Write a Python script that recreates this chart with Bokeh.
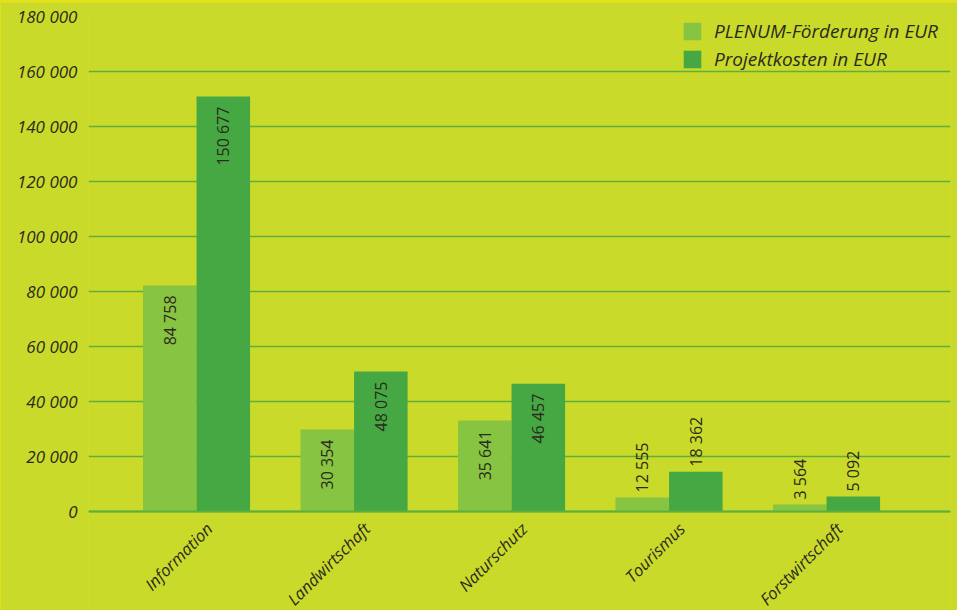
import numpy as np
from bokeh.plotting import figure
from bokeh.models import Range1d, FixedTicker, Legend, LegendItem, Span
from bokeh.embed import file_html
from bokeh.resources import INLINE

# ---------------- data ----------------
categories = ["Information", "Landwirtschaft", "Naturschutz", "Tourismus", "Forstwirtschaft"]
series_names = ["PLENUM-Förderung in EUR", "Projektkosten in EUR"]
# bar heights as drawn in the picture
foerderung = [82200, 29800, 33100, 5100, 2550]
projektkosten = [150900, 50900, 46500, 14500, 5450]
# value labels as printed in the picture
foerderung_labels = ["84 758", "30 354", "35 641", "12 555", "3 564"]
projektkosten_labels = ["150 677", "48 075", "46 457", "18 362", "5 092"]
y_ticks = [0, 20000, 40000, 60000, 80000, 100000, 120000, 140000, 160000, 180000]
y_tick_labels = ["0", "20 000", "40 000", "60 000", "80 000", "100 000",
                 "120 000", "140 000", "160 000", "180 000"]

# ---------------- style ----------------
BG = "#CADA2A"
TOP = "#E3E11C"
LIGHT = "#87C441"
DARK = "#46A842"
GRID = "#5DB03C"
TXT = "#2A2A1E"
FONT = "Open Sans"

idx = np.arange(1, len(categories) + 1)
off = 0.17
bw = 0.34
px = 180000 / 495.0          # data units per screen pixel on the y axis

# frame extends below zero so the rotated category labels live inside it
p = figure(width=957, height=608,
           x_range=Range1d(0.314, 5.787), y_range=Range1d(-99 * px, 180000),
           output_backend="svg", toolbar_location=None,
           min_border_left=88, min_border_right=7, min_border_top=14, min_border_bottom=0,
           background_fill_color=BG, border_fill_color=BG, outline_line_color=None)

r1 = p.vbar(x=idx - off, top=foerderung, width=bw, fill_color=LIGHT, line_color=None)
r2 = p.vbar(x=idx + off, top=projektkosten, width=bw, fill_color=DARK, line_color=None)

# baseline
p.add_layout(Span(location=0, dimension="width", line_color=GRID, line_width=2))

# value labels
thr = 25000
inside_gap = 10 * px
outside_gap = 5 * px
for xs, vals, labs in [(idx - off, foerderung, foerderung_labels),
                       (idx + off, projektkosten, projektkosten_labels)]:
    ix, iy, it, ox, oy, ot = [], [], [], [], [], []
    for x, v, l in zip(xs, vals, labs):
        if v > thr:
            ix.append(x); iy.append(v - inside_gap); it.append(l)
        else:
            ox.append(x); oy.append(v + outside_gap); ot.append(l)
    if ix:
        p.text(x=ix, y=iy, text=it, angle=np.pi / 2, text_align="right",
               text_baseline="middle", text_font_size="16px", text_color=TXT,
               text_font={"value": FONT})
    if ox:
        p.text(x=ox, y=oy, text=ot, angle=np.pi / 2, text_align="left",
               text_baseline="middle", text_font_size="16px", text_color=TXT,
               text_font={"value": FONT})

# category labels, rotated, below each group
p.text(x=idx + 0.08, y=[-14 * px] * len(categories), text=categories, angle=np.pi / 4,
       text_align="right", text_baseline="middle", text_font={"value": FONT},
       text_font_style="italic", text_font_size="16.5px", text_color=TXT)

p.xaxis.visible = False

ya = p.yaxis[0]
ya.ticker = FixedTicker(ticks=y_ticks)
ya.major_label_overrides = {t: l for t, l in zip(y_ticks, y_tick_labels)}
ya.axis_line_color = None
ya.major_tick_line_color = None
ya.minor_tick_line_color = None
ya.major_tick_out = 0
ya.major_label_text_font = FONT
ya.major_label_text_font_style = "italic"
ya.major_label_text_font_size = "17px"
ya.major_label_text_color = TXT
ya.major_label_standoff = 11

p.xgrid.visible = False
p.ygrid.ticker = FixedTicker(ticks=y_ticks)
p.ygrid.grid_line_color = GRID
p.ygrid.grid_line_width = 1.5

legend = Legend(items=[LegendItem(label=series_names[0], renderers=[r1]),
                       LegendItem(label=series_names[1], renderers=[r2])],
                location=(593, 538), padding=0, margin=0, spacing=2,
                glyph_width=22, glyph_height=22, label_height=22, label_standoff=11,
                background_fill_alpha=0, border_line_color=None,
                label_text_font=FONT, label_text_font_style="italic",
                label_text_font_size="19px", label_text_color=TXT)
p.add_layout(legend)

html = file_html(p, INLINE)
style = ("<style>html,body{margin:0;padding:0;overflow:hidden;background:%s;}"
         "body{padding-top:2px;}</style></head>" % TOP)
html = html.replace("</head>", style, 1)
open("out.html", "w").write(html)
